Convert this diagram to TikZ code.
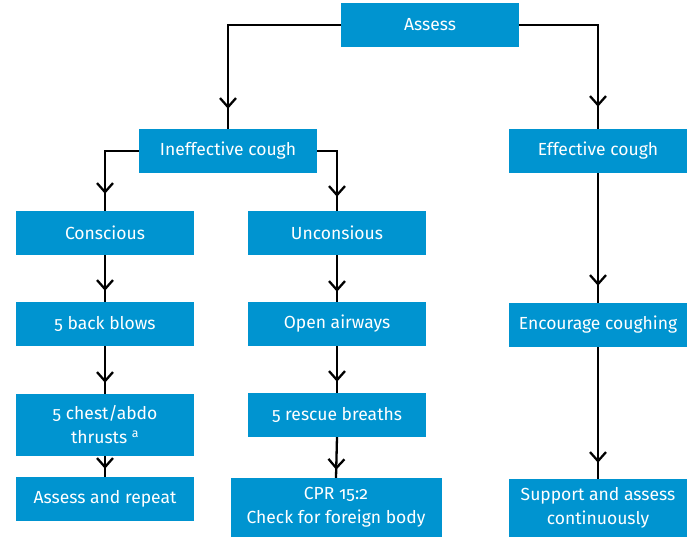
\documentclass[tikz,border=0pt]{standalone}
\usepackage{fontspec}
\setmainfont{Fira Sans}[Numbers=OldStyle]
\usetikzlibrary{arrows.meta,decorations.markings}
\definecolor{boxblue}{RGB}{0,148,208}
\begin{document}
\begin{tikzpicture}[x=1pt,y=-1pt,
  stepbox/.style={fill=boxblue, text=white, minimum width=178pt, minimum height=44pt,
    inner sep=0pt, align=center, font=\fontsize{17.5}{24}\selectfont},
  link/.style={draw=black, line width=2.3pt},
  tipat/.style={postaction={decorate}, decoration={markings,
    mark=at position -#1 with {\arrow{Straight Barb[length=9pt,width=16pt,line width=2.3pt]}}}}
]
\useasboundingbox (0,0) rectangle (689,538);

% boxes
\node[stepbox] (assess) at (430,25) {Assess};
\node[stepbox] (ineff) at (228,151) {Ineffective cough};
\node[stepbox] (eff) at (598,151) {Effective cough};
\node[stepbox] (consc) at (105,233) {Conscious};
\node[stepbox] (uncon) at (337,233) {Unconsious};
\node[stepbox] (back) at (105,324) {5 back blows};
\node[stepbox] (open) at (337,324) {Open airways};
\node[stepbox] (enc) at (598,325) {Encourage coughing};
\node[stepbox, minimum height=62pt] (chest) at (105,425) {5 chest/abdo\\thrusts \textsuperscript{a}};
\node[stepbox] (rescue) at (337,415) {5 rescue breaths};
\node[stepbox] (repeat) at (105,499) {Assess and repeat};
\node[stepbox, minimum width=211pt, minimum height=59pt] (cpr) at (336,507.5) {CPR 15:2\\Check for foreign body};
\node[stepbox, minimum height=58pt] (support) at (598,508) {Support and assess\\continuously};

% connectors
\draw[link, tipat=20pt] (assess.west) -| (ineff.north);
\draw[link, tipat=22pt] (assess.east) -| (eff.north);
\draw[link, tipat=17pt] (ineff.west) -| (consc.north);
\draw[link, tipat=14pt] (ineff.east) -| (uncon.north);
\draw[link, tipat=11pt] (consc.south) -- (back.north);
\draw[link, tipat=11pt] (back.south) -- (chest.north);
\draw[link, tipat=8pt] (chest.south) -- (repeat.north);
\draw[link, tipat=10pt] (uncon.south) -- (open.north);
\draw[link, tipat=11pt] (open.south) -- (rescue.north);
\draw[link, tipat=8pt] (rescue.south) -- (cpr.north);
\draw[link, tipat=17pt] (eff.south) -- (enc.north);
\draw[link, tipat=16pt] (enc.south) -- (support.north);
\end{tikzpicture}
\end{document}
